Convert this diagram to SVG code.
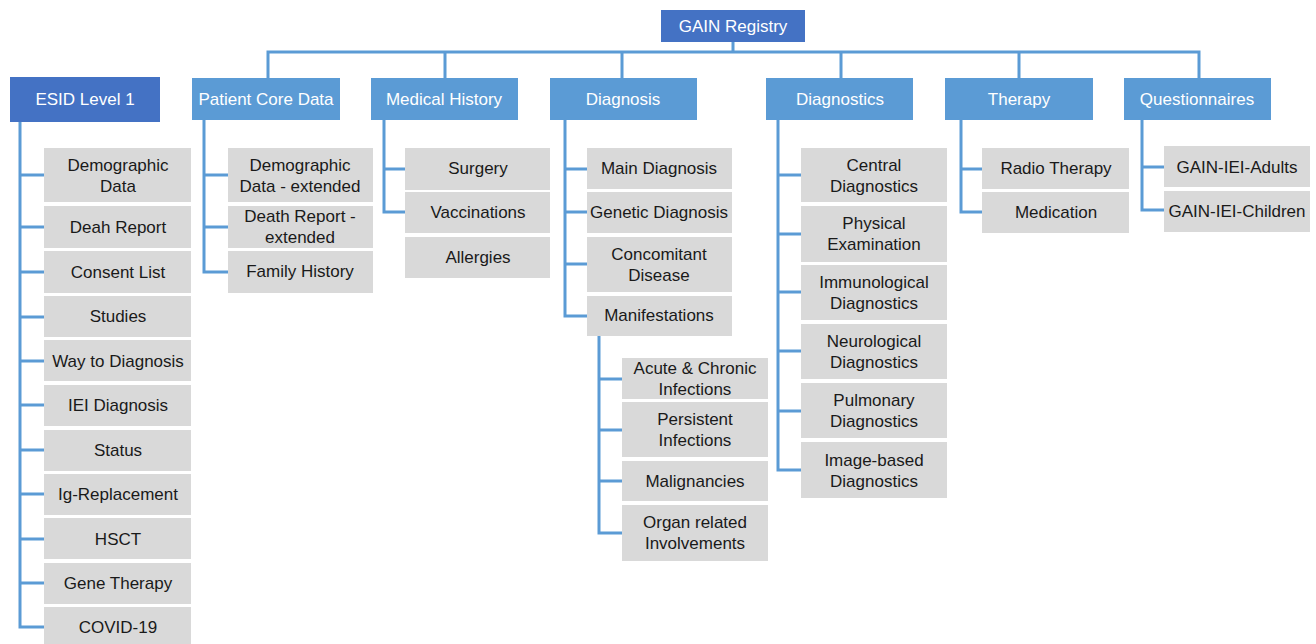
<svg xmlns="http://www.w3.org/2000/svg" width="1316" height="644" viewBox="0 0 1316 644">
<style>
.top{fill:#4472C4}
.hd{fill:#5B9BD5}
.bx{fill:#D9D9D9}
.ht{font-family:"Liberation Sans",Arial,sans-serif;font-size:17px;fill:#ffffff;text-anchor:middle}
.t{font-family:"Liberation Sans",Arial,sans-serif;font-size:17px;fill:#1a1a1a;text-anchor:middle}
.c{fill:none;stroke:#5B9BD5;stroke-width:3}
</style>
<rect width="1316" height="644" fill="#ffffff"/>
<g id="connectors">
<path class="c" d="M733 42V52M268 78V52H1199V78M445 52V78M622 52V78M841 52V78M1019 52V78"/>
<path class="c" d="M20 122V627H44M20 175H44M20 227H44M20 272H44M20 317H44M20 361H44M20 405H44M20 450H44M20 494H44M20 539H44M20 583H44"/>
<path class="c" d="M204 120V272H228M204 175H228M204 227H228"/>
<path class="c" d="M384 120V212H405M384 169H405"/>
<path class="c" d="M565 120V316H587M565 169H587M565 212H587M565 264H587"/>
<path class="c" d="M599 336V533H622M599 379H622M599 430H622M599 481H622"/>
<path class="c" d="M778 120V470H801M778 175H801M778 234H801M778 292H801M778 351H801M778 411H801"/>
<path class="c" d="M961 120V212H982M961 169H982"/>
<path class="c" d="M1142 120V210H1164M1142 167H1164"/>
</g>
<g id="gain"><rect class="top" x="661" y="10" width="144" height="32"/><text class="ht" x="733" y="32">GAIN Registry</text></g>
<g id="esid"><rect class="top" x="10" y="77" width="150" height="45"/><text class="ht" x="85" y="105">ESID Level 1</text></g>
<g id="pcd"><rect class="hd" x="192" y="78" width="148" height="42"/><text class="ht" x="266" y="105">Patient Core Data</text></g>
<g id="mh"><rect class="hd" x="371" y="78" width="147" height="42"/><text class="ht" x="444" y="105">Medical History</text></g>
<g id="diag"><rect class="hd" x="550" y="78" width="147" height="42"/><text class="ht" x="623" y="105">Diagnosis</text></g>
<g id="dgx"><rect class="hd" x="766" y="78" width="147" height="42"/><text class="ht" x="840" y="105">Diagnostics</text></g>
<g id="ther"><rect class="hd" x="945" y="78" width="148" height="42"/><text class="ht" x="1019" y="105">Therapy</text></g>
<g id="quest"><rect class="hd" x="1124" y="78" width="147" height="42"/><text class="ht" x="1197" y="105">Questionnaires</text></g>

<g id="e1"><rect class="bx" x="44" y="148" width="147" height="54"/><text class="t" x="118" y="171">Demographic</text><text class="t" x="118" y="192">Data</text></g>
<g id="e2"><rect class="bx" x="44" y="206" width="147" height="42"/><text class="t" x="118" y="233">Deah Report</text></g>
<g id="e3"><rect class="bx" x="44" y="251" width="147" height="42"/><text class="t" x="118" y="278">Consent List</text></g>
<g id="e4"><rect class="bx" x="44" y="296" width="147" height="41"/><text class="t" x="118" y="322">Studies</text></g>
<g id="e5"><rect class="bx" x="44" y="340" width="147" height="41"/><text class="t" x="118" y="367">Way to Diagnosis</text></g>
<g id="e6"><rect class="bx" x="44" y="385" width="147" height="41"/><text class="t" x="118" y="411">IEI Diagnosis</text></g>
<g id="e7"><rect class="bx" x="44" y="430" width="147" height="41"/><text class="t" x="118" y="456">Status</text></g>
<g id="e8"><rect class="bx" x="44" y="474" width="147" height="41"/><text class="t" x="118" y="500">Ig-Replacement</text></g>
<g id="e9"><rect class="bx" x="44" y="518" width="147" height="41"/><text class="t" x="118" y="545">HSCT</text></g>
<g id="e10"><rect class="bx" x="44" y="563" width="147" height="41"/><text class="t" x="118" y="589">Gene Therapy</text></g>
<g id="e11"><rect class="bx" x="44" y="607" width="147" height="41"/><text class="t" x="118" y="633">COVID-19</text></g>

<g id="p1"><rect class="bx" x="228" y="148" width="145" height="54"/><text class="t" x="300" y="171">Demographic</text><text class="t" x="300" y="192">Data - extended</text></g>
<g id="p2"><rect class="bx" x="228" y="206" width="145" height="42"/><text class="t" x="300" y="222">Death Report -</text><text class="t" x="300" y="243">extended</text></g>
<g id="p3"><rect class="bx" x="228" y="251" width="145" height="42"/><text class="t" x="300" y="277">Family History</text></g>

<g id="m1"><rect class="bx" x="405" y="148" width="145" height="42"/><text class="t" x="478" y="174">Surgery</text></g>
<g id="m2"><rect class="bx" x="405" y="192" width="145" height="41"/><text class="t" x="478" y="218">Vaccinations</text></g>
<g id="m3"><rect class="bx" x="405" y="237" width="145" height="41"/><text class="t" x="478" y="263">Allergies</text></g>

<g id="d1"><rect class="bx" x="587" y="148" width="145" height="41"/><text class="t" x="659" y="174">Main Diagnosis</text></g>
<g id="d2"><rect class="bx" x="587" y="192" width="145" height="41"/><text class="t" x="659" y="218">Genetic Diagnosis</text></g>
<g id="d3"><rect class="bx" x="587" y="237" width="145" height="55"/><text class="t" x="659" y="260">Concomitant</text><text class="t" x="659" y="281">Disease</text></g>
<g id="d4"><rect class="bx" x="587" y="296" width="145" height="40"/><text class="t" x="659" y="321">Manifestations</text></g>

<g id="f1"><rect class="bx" x="622" y="358" width="146" height="41"/><text class="t" x="695" y="374">Acute &amp; Chronic</text><text class="t" x="695" y="395">Infections</text></g>
<g id="f2"><rect class="bx" x="622" y="402" width="146" height="55"/><text class="t" x="695" y="425">Persistent</text><text class="t" x="695" y="446">Infections</text></g>
<g id="f3"><rect class="bx" x="622" y="461" width="146" height="40"/><text class="t" x="695" y="487">Malignancies</text></g>
<g id="f4"><rect class="bx" x="622" y="505" width="146" height="56"/><text class="t" x="695" y="528">Organ related</text><text class="t" x="695" y="549">Involvements</text></g>

<g id="g1"><rect class="bx" x="801" y="148" width="146" height="54"/><text class="t" x="874" y="171">Central</text><text class="t" x="874" y="192">Diagnostics</text></g>
<g id="g2"><rect class="bx" x="801" y="206" width="146" height="56"/><text class="t" x="874" y="229">Physical</text><text class="t" x="874" y="250">Examination</text></g>
<g id="g3"><rect class="bx" x="801" y="265" width="146" height="55"/><text class="t" x="874" y="288">Immunological</text><text class="t" x="874" y="309">Diagnostics</text></g>
<g id="g4"><rect class="bx" x="801" y="324" width="146" height="55"/><text class="t" x="874" y="347">Neurological</text><text class="t" x="874" y="368">Diagnostics</text></g>
<g id="g5"><rect class="bx" x="801" y="383" width="146" height="55"/><text class="t" x="874" y="406">Pulmonary</text><text class="t" x="874" y="427">Diagnostics</text></g>
<g id="g6"><rect class="bx" x="801" y="442" width="146" height="56"/><text class="t" x="874" y="466">Image-based</text><text class="t" x="874" y="487">Diagnostics</text></g>

<g id="t1"><rect class="bx" x="982" y="148" width="147" height="41"/><text class="t" x="1056" y="174">Radio Therapy</text></g>
<g id="t2"><rect class="bx" x="982" y="192" width="147" height="41"/><text class="t" x="1056" y="218">Medication</text></g>

<g id="q1"><rect class="bx" x="1164" y="146" width="146" height="41"/><text class="t" x="1237" y="173">GAIN-IEI-Adults</text></g>
<g id="q2"><rect class="bx" x="1164" y="191" width="146" height="41"/><text class="t" x="1237" y="217">GAIN-IEI-Children</text></g>
</svg>
